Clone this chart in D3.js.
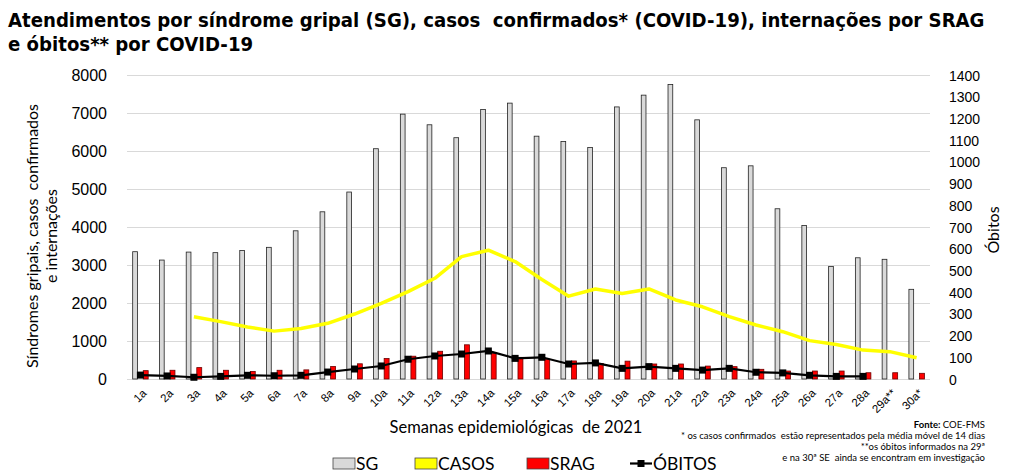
<!DOCTYPE html>
<html>
<head>
<meta charset="utf-8">
<script src="https://cdn.jsdelivr.net/npm/d3@7"></script>
<style>
  body { margin: 0; background: #fff; }
  svg { display: block; font-family: Lato, "Open Sans", sans-serif; }
  svg text { white-space: pre; }
  .grid line { stroke: #d9d9d9; stroke-width: 1; }
  .tick text { fill: #000; }
</style>
</head>
<body>
<svg id="chart" width="1018" height="472"></svg>
<script>
// semanas epidemiológicas
var weeks = ["1a","2a","3a","4a","5a","6a","7a","8a","9a","10a","11a","12a","13a","14a","15a",
  "16a","17a","18a","19a","20a","21a","22a","23a","24a","25a","26a","27a","28a","29a**","30a*"];

// atendimentos por síndrome gripal
var sg = [3350,3130,3340,3325,3380,3465,3900,4400,4920,6060,6970,6690,6350,7090,7260,
  6390,6250,6090,7160,7470,7750,6820,5560,5610,4480,4040,2960,3190,3150,2360];

// casos confirmados (média móvel 14 dias), começa na 3a semana
var casos = [null,null,1640,1510,1370,1260,1330,1465,1710,1990,2300,2650,3220,3390,3090,
  2620,2180,2370,2250,2370,2080,1900,1640,1420,1245,1010,910,760,720,560];

// internações por SRAG
var srag = [220,230,300,230,200,230,240,330,400,540,600,730,900,670,570,
  520,475,410,470,395,395,340,325,255,210,210,210,165,165,150];

// óbitos (eixo direito), sem dados na 29a e 30a
var obitos = [18,14,8,12,17,15,17,32,46,60,91,106,115,129,95,
  100,69,74,49,57,49,41,49,31,28,17,12,12,null,null];

var leftTicks = [0,1000,2000,3000,4000,5000,6000,7000,8000];
var rightTicks = [0,100,200,300,400,500,600,700,800,900,1000,1100,1200,1300,1400];

var footnotes = [
  "* os casos confirmados  estão representados pela média móvel de 14 dias",
  "**os óbitos informados na 29ª",
  "e na 30ª SE  ainda se encontram em investigação"
];

var margin = { top: 75, right: 88, bottom: 93, left: 127 };
var svg = d3.select("#chart");
var width = 1018 - margin.left - margin.right;
var height = 472 - margin.top - margin.bottom;

var g = svg.append("g").attr("transform", "translate(" + margin.left + "," + margin.top + ")");

var x0 = d3.scaleBand().domain(weeks).range([0, width]).padding(0);
var x1 = d3.scaleBand().domain(["SG", "CASOS", "SRAG"]).range([-8, 8]);
var yLeft = d3.scaleLinear().domain([0, 8000]).range([height, 0]);
var yRight = d3.scaleLinear().domain([0, 1400]).range([height, 0]);
var cx = function (w) { return x0(w) + x0.bandwidth() / 2; };

// grid
g.append("g")
  .attr("class", "grid")
  .call(d3.axisLeft(yLeft).tickValues(leftTicks).tickSize(-width).tickFormat(""))
  .call(function (a) { a.select(".domain").remove(); });

// left axis
g.append("g")
  .attr("transform", "translate(-17,0)")
  .call(d3.axisLeft(yLeft).tickValues(leftTicks).tickSize(0).tickFormat(d3.format("d")))
  .call(function (a) { a.select(".domain").remove(); })
  .selectAll("text")
  .style("font-size", "16px")
  .attr("dy", "0.36em");

// right axis
g.append("g")
  .attr("transform", "translate(" + (width + 16) + ",0)")
  .call(d3.axisRight(yRight).tickValues(rightTicks).tickSize(0).tickFormat(d3.format("d")))
  .call(function (a) { a.select(".domain").remove(); })
  .selectAll("text")
  .style("font-size", "14px")
  .attr("dy", "0.36em");

// x axis labels
g.append("g")
  .attr("transform", "translate(0," + height + ")")
  .call(d3.axisBottom(x0).tickSize(0))
  .call(function (a) { a.select(".domain").remove(); })
  .selectAll("text")
  .style("font-size", "11.5px")
  .style("text-anchor", "end")
  .attr("transform", "translate(4,12) rotate(-45)")
  .attr("dx", 0)
  .attr("dy", "0.35em")
  .attr("y", 0);

// SG bars
g.selectAll(".sg")
  .data(weeks)
  .enter()
  .append("rect")
  .attr("class", "sg")
  .attr("x", function (w) { return cx(w) + x1("SG") + 0.3; })
  .attr("width", x1.bandwidth() - 0.6)
  .attr("y", function (w, i) { return yLeft(sg[i]); })
  .attr("height", function (w, i) { return height - yLeft(sg[i]); })
  .attr("fill", "#d9d9d9")
  .attr("stroke", "#222")
  .attr("stroke-width", 0.8);

// SRAG bars
g.selectAll(".srag")
  .data(weeks)
  .enter()
  .append("rect")
  .attr("class", "srag")
  .attr("x", function (w) { return cx(w) + x1("SRAG") + 0.2; })
  .attr("width", x1.bandwidth() - 0.4)
  .attr("y", function (w, i) { return yLeft(srag[i]); })
  .attr("height", function (w, i) { return height - yLeft(srag[i]); })
  .attr("fill", "#ff0000")
  .attr("stroke", "#6b0000")
  .attr("stroke-width", 0.8);

// casos line
var casosLine = d3.line()
  .defined(function (d) { return d.v != null; })
  .x(function (d) { return cx(d.w); })
  .y(function (d) { return yLeft(d.v); });

g.append("path")
  .datum(weeks.map(function (w, i) { return { w: w, v: casos[i] }; }))
  .attr("d", casosLine)
  .attr("fill", "none")
  .attr("stroke", "#ffff00")
  .attr("stroke-width", 3.5)
  .attr("stroke-linejoin", "round");

// obitos line + markers
var obitosData = weeks.map(function (w, i) { return { w: w, v: obitos[i] }; })
  .filter(function (d) { return d.v != null; });

g.append("path")
  .datum(obitosData)
  .attr("d", d3.line().x(function (d) { return cx(d.w); }).y(function (d) { return yRight(d.v); }))
  .attr("fill", "none")
  .attr("stroke", "#000")
  .attr("stroke-width", 2.2);

g.selectAll(".mk")
  .data(obitosData)
  .enter()
  .append("rect")
  .attr("class", "mk")
  .attr("x", function (d) { return cx(d.w) - 3.5; })
  .attr("y", function (d) { return yRight(d.v) - 3.5; })
  .attr("width", 7)
  .attr("height", 7)
  .attr("fill", "#000");

// titles - font size fitted so the first line spans the same width as the original
var titleLines = ["Atendimentos por síndrome gripal (SG), casos  confirmados* (COVID-19), internações por SRAG",
  "e óbitos** por COVID-19"];
var title = svg.append("g")
  .style("font-family", "'Liberation Sans Narrow', 'DejaVu Sans Condensed', sans-serif")
  .style("font-weight", "bold")
  .style("font-size", "20px");
var t1 = title.append("text").attr("x", 8).attr("y", 27).text(titleLines[0]);
var fitSize = Math.min(22, 20 * 977 / t1.node().getComputedTextLength());
title.style("font-size", fitSize + "px");
title.append("text").attr("x", 8).attr("y", 51).text(titleLines[1]);

// left axis title
var yt = svg.append("text")
  .attr("transform", "translate(38,236) rotate(-90)")
  .attr("text-anchor", "middle")
  .style("font-size", "16px");
yt.append("tspan").attr("x", 0).attr("y", 0).text("Síndromes gripais, casos  confirmados");
yt.append("tspan").attr("x", 0).attr("y", 19).text("e internações");

svg.append("text")
  .attr("transform", "translate(999,230) rotate(-90)")
  .attr("text-anchor", "middle")
  .style("font-size", "16px")
  .text("Óbitos");

svg.append("text")
  .attr("x", 516)
  .attr("y", 433)
  .attr("text-anchor", "middle")
  .style("font-size", "16.5px")
  .text("Semanas epidemiológicas  de 2021");

// footnotes
var fn = svg.append("text")
  .attr("text-anchor", "end")
  .style("font-size", "9.5px");
var f0 = fn.append("tspan").attr("x", 985).attr("y", 428);
f0.append("tspan").style("font-weight", "bold").text("Fonte: ");
f0.append("tspan").text("COE-FMS");
footnotes.forEach(function (t, i) {
  fn.append("tspan").attr("x", 985).attr("y", 438.5 + i * 11).text(t);
});

// legend
var legendItems = [
  { name: "SG", x: 333, fill: "#d9d9d9", stroke: "#444" },
  { name: "CASOS", x: 415, fill: "#ffff00", stroke: "#444" },
  { name: "SRAG", x: 527, fill: "#ff0000", stroke: "#444" }
];
var leg = svg.append("g");
legendItems.forEach(function (d) {
  leg.append("rect").attr("x", d.x).attr("y", 458).attr("width", 22).attr("height", 11)
    .attr("fill", d.fill).attr("stroke", d.stroke).attr("stroke-width", 0.8);
  leg.append("text").attr("x", d.x + 23).attr("y", 469.5).style("font-size", "17.5px").text(d.name);
});
leg.append("line").attr("x1", 630).attr("x2", 652).attr("y1", 463.5).attr("y2", 463.5)
  .attr("stroke", "#000").attr("stroke-width", 2.2);
leg.append("rect").attr("x", 637.5).attr("y", 460).attr("width", 7).attr("height", 7).attr("fill", "#000");
leg.append("text").attr("x", 653).attr("y", 469.5).style("font-size", "17.5px").text("ÓBITOS");
</script>
</body>
</html>
